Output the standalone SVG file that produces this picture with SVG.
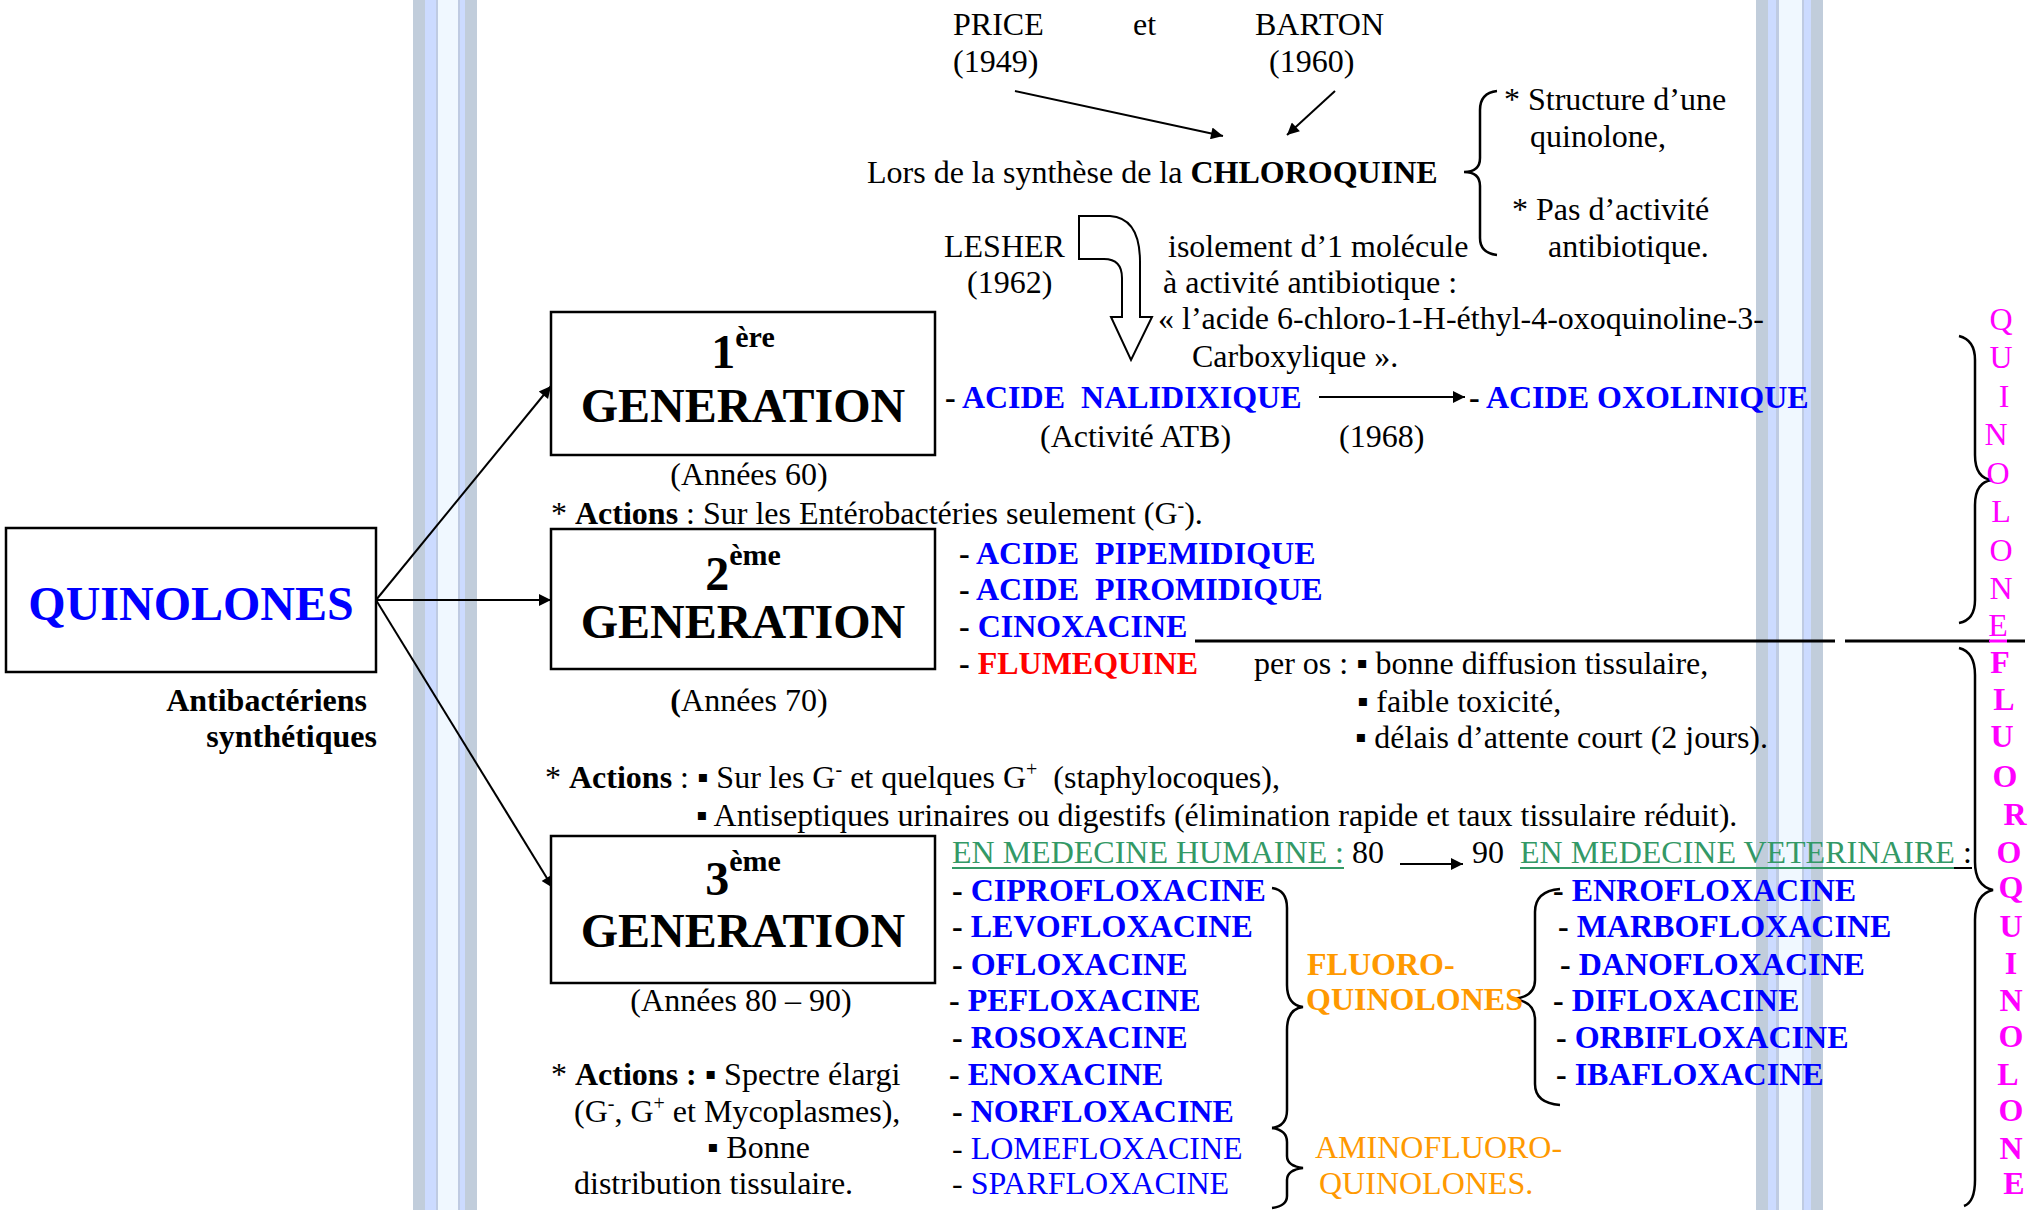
<svg xmlns="http://www.w3.org/2000/svg" width="2033" height="1210" viewBox="0 0 2033 1210">
<defs>
<style>
text{font-family:'Liberation Serif','Times New Roman','DejaVu Serif',serif;font-size:32px;fill:#000;white-space:pre}
.b{font-weight:bold}
.blue{fill:#0000FF;font-weight:bold}
.bluen{fill:#0000FF}
.red{fill:#FF0000;font-weight:bold}
.mag{fill:#FF00FF;text-anchor:middle}
.magb{fill:#FF00FF;text-anchor:middle;font-weight:bold}
.orange{fill:#FF9900}
.green{fill:#339966}
.big{font-size:48px;font-weight:bold}
.sup{font-size:30px;font-weight:bold}
.mid{text-anchor:middle}
.box{fill:#fff;stroke:#000;stroke-width:2.5}
.conn{stroke:#000;stroke-width:2;fill:none}
.brace{stroke:#000;stroke-width:2.5;fill:none}
.sg{fill:#C1CDDB}
.sb{fill:#CCDBFF}
.sl{fill:#F0F8FF}
.sm{fill:#BFCBE2}
</style>
<marker id="ah" viewBox="0 0 10 10" refX="10" refY="5" markerWidth="16" markerHeight="12" markerUnits="userSpaceOnUse" orient="auto"><path d="M0,0 L10,5 L0,10 z" fill="#000"/></marker>
</defs>
<rect x="0" y="0" width="2033" height="1210" fill="#fff"/>

<g id="stripes">
<rect class="sg" x="413" y="0" width="12" height="1210"/>
<rect class="sb" x="425" y="0" width="11" height="1210"/>
<rect class="sm" x="436" y="0" width="2" height="1210"/>
<rect class="sl" x="438" y="0" width="20" height="1210"/>
<rect class="sm" x="458" y="0" width="2" height="1210"/>
<rect class="sb" x="460" y="0" width="5" height="1210"/>
<rect class="sg" x="465" y="0" width="12" height="1210"/>
<rect class="sg" x="1756" y="0" width="12" height="1210"/>
<rect class="sb" x="1768" y="0" width="8" height="1210"/>
<rect class="sm" x="1776" y="0" width="3" height="1210"/>
<rect class="sl" x="1779" y="0" width="23" height="1210"/>
<rect class="sm" x="1802" y="0" width="2" height="1210"/>
<rect class="sb" x="1804" y="0" width="7" height="1210"/>
<rect class="sg" x="1811" y="0" width="12" height="1210"/>
</g>

<g id="connectors">
<line class="conn" x1="376" y1="600" x2="551" y2="386" marker-end="url(#ah)"/>
<line class="conn" x1="376" y1="600" x2="551" y2="600" marker-end="url(#ah)"/>
<line class="conn" x1="376" y1="600" x2="553" y2="888" marker-end="url(#ah)"/>
<line class="conn" x1="1015" y1="91" x2="1223" y2="136" marker-end="url(#ah)"/>
<line class="conn" x1="1335" y1="91" x2="1287" y2="135" marker-end="url(#ah)"/>
<line class="conn" x1="1319" y1="397" x2="1465" y2="397" stroke-width="3" marker-end="url(#ah)"/>
<line class="conn" x1="1400" y1="864" x2="1463" y2="864" marker-end="url(#ah)"/>
<path d="M1079,216 L1110,216 Q1140,218 1140,262 L1140,317 L1152,317 L1131,360 L1111,317 L1122,317 L1122,278 Q1122,259 1104,259 L1079,259 Z" fill="#fff" stroke="#000" stroke-width="2"/>
<line x1="1195" y1="641" x2="1835" y2="641" stroke="#000" stroke-width="3"/>
<line x1="1845" y1="641" x2="1990" y2="641" stroke="#000" stroke-width="3"/>
<line x1="2007" y1="641" x2="2025" y2="641" stroke="#000" stroke-width="3"/>
<line x1="1989" y1="641" x2="2007" y2="641" stroke="#FF00FF" stroke-width="3"/>
</g>

<g id="braces">
<path class="brace" d="M1497,91 Q1480,93 1480,110 L1480,158 Q1480,172 1464,172 Q1480,172 1480,186 L1480,238 Q1480,253 1497,255"/>
<path class="brace" d="M1272,888 Q1287,890 1287,908 L1287,985 Q1287,1005 1303,1007 Q1287,1009 1287,1030 L1287,1110 Q1287,1126 1272,1128"/>
<path class="brace" d="M1272,1128 Q1287,1130 1287,1142 L1287,1156 Q1287,1166 1303,1168 Q1287,1170 1287,1180 L1287,1196 Q1287,1206 1272,1208"/>
<path class="brace" d="M1560,889 Q1535,891 1535,912 L1535,980 Q1535,997 1513,999 Q1535,1001 1535,1020 L1535,1084 Q1535,1103 1560,1105"/>
<path class="brace" d="M1959,336 Q1975,340 1975,360 L1975,455 Q1975,478 1992,480 Q1975,482 1975,505 L1975,600 Q1975,620 1959,623"/>
<path class="brace" d="M1959,648 Q1975,652 1975,675 L1975,862 Q1975,886 1993,890 Q1975,894 1975,920 L1975,1180 Q1975,1202 1964,1206"/>
</g>

<g id="history">
<text x="953" y="35">PRICE</text>
<text x="953" y="72">(1949)</text>
<text x="1133" y="35">et</text>
<text x="1255" y="35">BARTON</text>
<text x="1269" y="72">(1960)</text>
<text x="867" y="183">Lors de la synthèse de la <tspan class="b">CHLOROQUINE</tspan></text>
<text x="1504" y="110">* Structure d’une</text>
<text x="1530" y="147">quinolone,</text>
<text x="1512" y="220">* Pas d’activité</text>
<text x="1548" y="257">antibiotique.</text>
<text x="944" y="257">LESHER</text>
<text x="967" y="293">(1962)</text>
<text x="1168" y="257">isolement d’1 molécule</text>
<text x="1163" y="293">à activité antibiotique :</text>
<text x="1158" y="329">« l’acide 6-chloro-1-H-éthyl-4-oxoquinoline-3-</text>
<text x="1192" y="367">Carboxylique ».</text>
</g>

<g id="quinolones">
<rect class="box" x="6" y="528" width="370" height="144"/>
<text class="big mid" x="191" y="620" fill="#0000FF" style="fill:#0000FF">QUINOLONES</text>
<text class="b" x="367" y="711" text-anchor="end">Antibactériens</text>
<text class="b" x="377" y="747" text-anchor="end">synthétiques</text>
</g>

<g id="gen1">
<rect class="box" x="551" y="312" width="384" height="143"/>
<text class="big mid" x="743" y="368">1<tspan class="sup" dy="-21">ère</tspan></text>
<text class="big mid" x="743" y="422">GENERATION</text>
<text class="mid" x="749" y="485">(Années 60)</text>
<text x="551" y="524">* <tspan class="b">Actions</tspan> : Sur les Entérobactéries seulement (G<tspan font-size="20" dy="-12">-</tspan><tspan dy="12">).</tspan></text>
<text x="945" y="408"><tspan class="b">- </tspan><tspan class="blue">ACIDE  NALIDIXIQUE</tspan></text>
<text x="1040" y="447">(Activité ATB)</text>
<text x="1339" y="447">(1968)</text>
<text x="1469" y="408"><tspan class="b">- </tspan><tspan class="blue">ACIDE OXOLINIQUE</tspan></text>
</g>

<g id="gen2">
<rect class="box" x="551" y="529" width="384" height="140"/>
<text class="big mid" x="743" y="590">2<tspan class="sup" dy="-25">ème</tspan></text>
<text class="big mid" x="743" y="638">GENERATION</text>
<text class="mid" x="749" y="711"><tspan class="b">(</tspan>Années 70)</text>
<text x="959" y="564"><tspan class="b">- </tspan><tspan class="blue">ACIDE  PIPEMIDIQUE</tspan></text>
<text x="959" y="600"><tspan class="b">- </tspan><tspan class="blue">ACIDE  PIROMIDIQUE</tspan></text>
<text x="959" y="637"><tspan class="b">- </tspan><tspan class="blue">CINOXACINE</tspan></text>
<text x="959" y="674"><tspan class="b">- </tspan><tspan class="red">FLUMEQUINE</tspan></text>
<text x="1254" y="674">per os : ▪ bonne diffusion tissulaire,</text>
<text x="1357" y="712">▪ faible toxicité,</text>
<text x="1355" y="748">▪ délais d’attente court (2 jours).</text>
</g>

<g id="gen3">
<text x="545" y="788">* <tspan class="b">Actions</tspan> : ▪ Sur les G<tspan font-size="20" dy="-12">-</tspan><tspan dy="12"> et quelques G</tspan><tspan font-size="20" dy="-12">+</tspan><tspan dy="12">  (staphylocoques),</tspan></text>
<text x="696" y="826">▪ Antiseptiques urinaires ou digestifs (élimination rapide et taux tissulaire réduit).</text>
<rect class="box" x="551" y="836" width="384" height="147"/>
<text class="big mid" x="743" y="895">3<tspan class="sup" dy="-24">ème</tspan></text>
<text class="big mid" x="743" y="947">GENERATION</text>
<text class="mid" x="741" y="1011">(Années 80 – 90)</text>
<text x="551" y="1085">* <tspan class="b">Actions :</tspan> ▪ Spectre élargi</text>
<text x="574" y="1122">(G<tspan font-size="20" dy="-12">-</tspan><tspan dy="12">, G</tspan><tspan font-size="20" dy="-12">+</tspan><tspan dy="12"> et Mycoplasmes),</tspan></text>
<text x="707" y="1158">▪ Bonne</text>
<text x="574" y="1194">distribution tissulaire.</text>
</g>

<g id="humaine">
<text x="952" y="863"><tspan class="green">EN MEDECINE HUMAINE :</tspan> 80</text>
<line x1="952" y1="868" x2="1344" y2="868" stroke="#339966" stroke-width="2"/>
<text x="1472" y="863">90</text>
<text x="952" y="901"><tspan class="b">- </tspan><tspan class="blue">CIPROFLOXACINE</tspan></text>
<text x="952" y="937"><tspan class="b">- </tspan><tspan class="blue">LEVOFLOXACINE</tspan></text>
<text x="952" y="975"><tspan class="b">- </tspan><tspan class="blue">OFLOXACINE</tspan></text>
<text x="949" y="1011"><tspan class="b">- </tspan><tspan class="blue">PEFLOXACINE</tspan></text>
<text x="952" y="1048"><tspan class="b">- </tspan><tspan class="blue">ROSOXACINE</tspan></text>
<text x="949" y="1085"><tspan class="b">- </tspan><tspan class="blue">ENOXACINE</tspan></text>
<text x="952" y="1122"><tspan class="b">- </tspan><tspan class="blue">NORFLOXACINE</tspan></text>
<text x="952" y="1159">- <tspan class="bluen">LOMEFLOXACINE</tspan></text>
<text x="952" y="1194">- <tspan class="bluen">SPARFLOXACINE</tspan></text>
<text class="orange b" x="1307" y="975">FLUORO-</text>
<text class="orange b" x="1306" y="1010">QUINOLONES</text>
<text class="orange" x="1315" y="1158">AMINOFLUORO-</text>
<text class="orange" x="1319" y="1194">QUINOLONES.</text>
</g>

<g id="veterinaire">
<text x="1520" y="863"><tspan class="green">EN MEDECINE VETERINAIRE</tspan> :</text>
<line x1="1520" y1="868" x2="1954" y2="868" stroke="#339966" stroke-width="2"/>
<line x1="1954" y1="868" x2="1972" y2="868" stroke="#000" stroke-width="2"/>
<text x="1553" y="901"><tspan class="b">- </tspan><tspan class="blue">ENROFLOXACINE</tspan></text>
<text x="1558" y="937"><tspan class="b">- </tspan><tspan class="blue">MARBOFLOXACINE</tspan></text>
<text x="1560" y="975"><tspan class="b">- </tspan><tspan class="blue">DANOFLOXACINE</tspan></text>
<text x="1553" y="1011"><tspan class="b">- </tspan><tspan class="blue">DIFLOXACINE</tspan></text>
<text x="1556" y="1048"><tspan class="b">- </tspan><tspan class="blue">ORBIFLOXACINE</tspan></text>
<text x="1556" y="1085"><tspan class="b">- </tspan><tspan class="blue">IBAFLOXACINE</tspan></text>
</g>

<g id="quinolone-vertical">
<text class="mag" x="2001" y="330">Q</text>
<text class="mag" x="2001" y="368">U</text>
<text class="mag" x="2004" y="407">I</text>
<text class="mag" x="1996" y="445">N</text>
<text class="mag" x="1998" y="484">O</text>
<text class="mag" x="2001" y="522">L</text>
<text class="mag" x="2001" y="561">O</text>
<text class="mag" x="2001" y="599">N</text>
<text class="mag" x="1998" y="636">E</text>
</g>

<g id="fluoroquinolone-vertical">
<text class="magb" x="2000" y="673">F</text>
<text class="magb" x="2004" y="710">L</text>
<text class="magb" x="2002" y="747">U</text>
<text class="magb" x="2005" y="787">O</text>
<text class="magb" x="2015" y="825">R</text>
<text class="magb" x="2009" y="863">O</text>
<text class="magb" x="2011" y="898">Q</text>
<text class="magb" x="2011" y="937">U</text>
<text class="magb" x="2011" y="974">I</text>
<text class="magb" x="2011" y="1011">N</text>
<text class="magb" x="2011" y="1047">O</text>
<text class="magb" x="2008" y="1085">L</text>
<text class="magb" x="2011" y="1121">O</text>
<text class="magb" x="2011" y="1159">N</text>
<text class="magb" x="2014" y="1194">E</text>
</g>
</svg>
